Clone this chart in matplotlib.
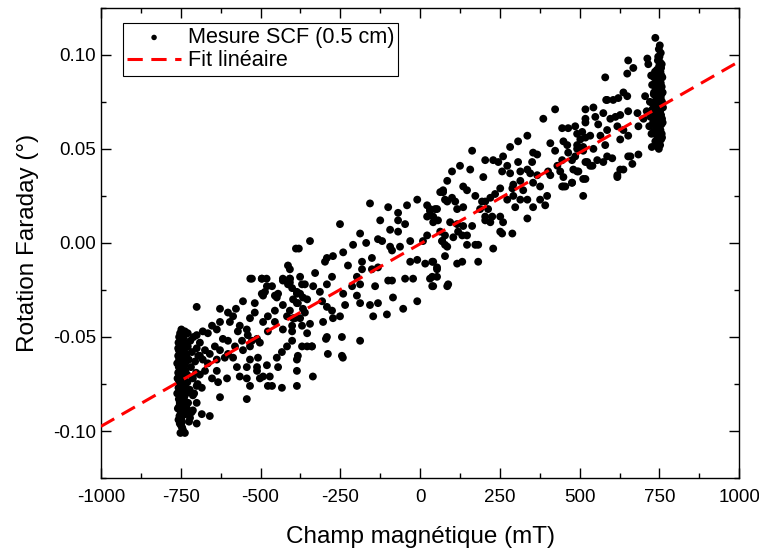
import numpy as np
import matplotlib.pyplot as plt

# Données : (champ en mT, rotation en degrés)
colonne_gauche = [
    (-748, -0.046), (-752, -0.048), (-745, -0.049), (-755, -0.050), (-750, -0.051), (-742, -0.052), (-757, -0.053), (-747, -0.054), (-753, -0.055), (-744, -0.055),
    (-750, -0.056), (-756, -0.057), (-741, -0.057), (-748, -0.058), (-753, -0.059), (-745, -0.060), (-758, -0.060), (-750, -0.061), (-743, -0.062), (-755, -0.062),
    (-748, -0.063), (-752, -0.064), (-740, -0.064), (-746, -0.065), (-756, -0.066), (-750, -0.066), (-743, -0.067), (-753, -0.068), (-747, -0.068), (-758, -0.069),
    (-750, -0.070), (-744, -0.070), (-754, -0.071), (-748, -0.072), (-741, -0.072), (-756, -0.073), (-751, -0.074), (-745, -0.074), (-753, -0.075), (-748, -0.076),
    (-757, -0.077), (-743, -0.077), (-750, -0.078), (-754, -0.079), (-746, -0.080), (-752, -0.081), (-748, -0.082), (-756, -0.083), (-744, -0.083), (-750, -0.084),
    (-753, -0.085), (-747, -0.086), (-755, -0.087), (-749, -0.088), (-752, -0.089), (-745, -0.090), (-750, -0.091), (-754, -0.092), (-748, -0.093), (-751, -0.094),
    (-746, -0.095), (-753, -0.096), (-749, -0.097), (-744, -0.099), (-751, -0.101), (-738, -0.060), (-736, -0.068), (-735, -0.075), (-739, -0.082), (-737, -0.054),
    (-732, -0.048), (-728, -0.055), (-725, -0.062), (-730, -0.070), (-722, -0.078), (-727, -0.085), (-720, -0.052), (-715, -0.058), (-718, -0.066), (-712, -0.072),
    (-710, -0.050), (-705, -0.063), (-700, -0.056), (-708, -0.080), (-702, -0.069), (-695, -0.060), (-690, -0.053), (-697, -0.075), (-716, -0.090), (-724, -0.095),
    (-740, -0.058), (-738, -0.065), (-741, -0.071), (-739, -0.078), (-740, -0.086), (-736, -0.091), (-733, -0.063), (-731, -0.059), (-733, -0.080), (-729, -0.074),
    (-744, -0.047), (-741, -0.050), (-761, -0.064), (-760, -0.072), (-761, -0.080), (-759, -0.088), (-758, -0.056), (-757, -0.094), (-742, -0.088), (-746, -0.098),
]

zone_gauche = [
    (-700, -0.034), (-627, -0.035), (-577, -0.035), (-555, -0.031), (-518, -0.032), (-496, -0.027), (-480, -0.023), (-527, -0.019), (-496, -0.019), (-430, -0.019),
    (-408, -0.021), (-455, -0.028), (-445, -0.027), (-430, -0.033), (-455, -0.036), (-386, -0.026), (-370, -0.022), (-367, -0.029), (-383, -0.032), (-408, -0.036),
    (-602, -0.037), (-586, -0.039), (-627, -0.042), (-596, -0.042), (-652, -0.044), (-637, -0.046), (-681, -0.047), (-665, -0.048), (-737, -0.047), (-728, -0.048),
    (-700, -0.049), (-565, -0.044), (-543, -0.046), (-571, -0.047), (-540, -0.049), (-558, -0.052), (-527, -0.052), (-511, -0.051), (-477, -0.047), (-502, -0.053),
    (-533, -0.055), (-555, -0.057), (-580, -0.055), (-602, -0.052), (-618, -0.051), (-627, -0.057), (-643, -0.055), (-659, -0.059), (-674, -0.057), (-690, -0.060),
    (-681, -0.062), (-665, -0.064), (-637, -0.062), (-612, -0.061), (-602, -0.059), (-586, -0.061), (-574, -0.066), (-543, -0.066), (-533, -0.062), (-511, -0.066),
    (-508, -0.061), (-480, -0.065), (-511, -0.068), (-543, -0.072), (-533, -0.076), (-565, -0.071), (-471, -0.071), (-433, -0.077), (-464, -0.076), (-386, -0.076),
    (-386, -0.068), (-386, -0.062), (-543, -0.083), (-627, -0.082), (-605, -0.072), (-633, -0.074), (-652, -0.072), (-637, -0.068), (-690, -0.070), (-674, -0.068),
    (-700, -0.076), (-684, -0.077), (-712, -0.081), (-700, -0.085), (-684, -0.091), (-659, -0.092), (-712, -0.089), (-731, -0.088), (-721, -0.093), (-700, -0.096),
    (-743, -0.100), (-737, -0.101), (-477, -0.076), (-383, -0.060), (-370, -0.055), (-354, -0.055), (-354, -0.048), (-370, -0.044), (-376, -0.040), (-361, -0.037),
    (-386, -0.027), (-502, -0.072), (-492, -0.071), (-445, -0.066), (-449, -0.061), (-433, -0.058), (-417, -0.055), (-401, -0.052), (-430, -0.046), (-401, -0.044),
    (-398, -0.040), (-417, -0.039), (-477, -0.039), (-492, -0.042), (-455, -0.042), (-533, -0.040), (-518, -0.037), (-389, -0.003), (-414, -0.012), (-532, -0.019),
    (-496, -0.019), (-481, -0.019), (-430, -0.020), (-408, -0.019), (-414, -0.022), (-464, -0.023), (-486, -0.026), (-492, -0.028), (-449, -0.029),
]

zone_milieu = [
    (-157, 0.021), (-251, 0.010), (-345, 0.001), (-380, -0.003), (-100, 0.019), (-69, 0.016), (-41, 0.020), (-9, 0.023), (-125, 0.012), (-94, 0.007),
    (-69, 0.012), (-47, 0.010), (-69, 0.006), (-188, 0.005), (-210, -0.001), (-169, 0.000), (-132, 0.002), (-119, 0.001), (-94, -0.002), (-88, -0.004),
    (-241, -0.005), (-273, -0.007), (-298, -0.010), (-292, -0.008), (-182, -0.010), (-151, -0.008), (-226, -0.012), (-182, -0.014), (-151, -0.014), (-132, -0.013),
    (-63, -0.002), (-31, 0.001), (-31, -0.010), (-9, -0.009), (16, -0.011), (9, 0.001), (22, 0.004), (41, -0.010), (53, -0.014), (53, -0.018),
    (31, -0.019), (78, -0.007), (85, -0.002), (69, 0.001), (78, 0.004), (63, 0.006), (41, 0.011), (56, 0.012), (22, 0.014), (31, 0.017),
    (53, 0.018), (22, 0.020), (85, 0.022), (72, 0.027), (85, 0.033), (-376, -0.018), (-408, -0.014), (-361, -0.022), (-376, -0.027), (-335, -0.023),
    (-329, -0.016), (-292, -0.022), (-276, -0.018), (-314, -0.026), (-354, -0.030), (-386, -0.032), (-398, -0.030), (-307, -0.031), (-292, -0.034), (-276, -0.036),
    (-241, -0.027), (-235, -0.033), (-213, -0.023), (-198, -0.028), (-188, -0.032), (-251, -0.039), (-273, -0.040), (-345, -0.043), (-304, -0.042), (-392, -0.040),
    (-401, -0.047), (-408, -0.019), (-401, -0.024), (-292, -0.050), (-245, -0.050), (-188, -0.052), (-339, -0.055), (-289, -0.059), (-245, -0.060), (-157, -0.033),
    (-147, -0.039), (-132, -0.032), (-104, -0.038), (-85, -0.029), (-88, -0.020), (-100, -0.020), (-141, -0.023), (-53, -0.035), (-47, -0.019), (-22, -0.019),
    (-9, -0.031), (38, -0.023), (85, -0.023), (-198, -0.018), (-188, -0.022), (-367, -0.035), (-339, -0.055), (-295, -0.051), (-242, -0.061), (-336, -0.071),
]

zone_droite = [
    (423, 0.071), (386, 0.066), (336, 0.057), (307, 0.054), (282, 0.051), (163, 0.049), (204, 0.044), (229, 0.044), (245, 0.043), (260, 0.046),
    (273, 0.041), (125, 0.041), (100, 0.038), (157, 0.039), (198, 0.035), (257, 0.038), (282, 0.037), (307, 0.043), (314, 0.038), (336, 0.039),
    (354, 0.048), (367, 0.047), (351, 0.043), (345, 0.037), (367, 0.036), (354, 0.032), (376, 0.030), (314, 0.033), (292, 0.031), (323, 0.028),
    (314, 0.023), (336, 0.023), (376, 0.023), (398, 0.025), (392, 0.020), (354, 0.019), (336, 0.013), (292, 0.025), (289, 0.029), (273, 0.023),
    (298, 0.019), (251, 0.029), (235, 0.026), (220, 0.024), (204, 0.022), (213, 0.018), (194, 0.022), (188, 0.018), (135, 0.030), (147, 0.028),
    (173, 0.025), (135, 0.019), (110, 0.022), (116, 0.018), (100, 0.024), (78, 0.023), (72, 0.028), (63, 0.027), (47, 0.018), (41, 0.014),
    (31, 0.018), (204, 0.014), (226, 0.014), (251, 0.014), (260, 0.011), (220, 0.011), (204, 0.012), (251, 0.006), (257, 0.005), (289, 0.005),
    (163, 0.009), (135, 0.009), (119, 0.006), (132, 0.004), (116, 0.010), (94, 0.011), (104, 0.003), (69, 0.001), (78, -0.001), (147, 0.004),
    (147, -0.001), (173, -0.001), (182, -0.001), (229, -0.003), (182, -0.010), (132, -0.010), (116, -0.011), (53, -0.013), (38, -0.010), (38, -0.018),
    (41, -0.023), (88, -0.022), (518, 0.056), (492, 0.058), (508, 0.059), (518, 0.064), (464, 0.061), (445, 0.061), (449, 0.054), (461, 0.052),
    (408, 0.053), (423, 0.049), (464, 0.048), (476, 0.044), (445, 0.044), (430, 0.041), (480, 0.039), (496, 0.038), (449, 0.035), (439, 0.038),
    (445, 0.030), (455, 0.030), (476, 0.032), (518, 0.034), (511, 0.025), (524, 0.043), (492, 0.050), (511, 0.051), (401, 0.038), (408, 0.036),
    (580, 0.088), (583, 0.076), (543, 0.072), (518, 0.071), (652, 0.097), (668, 0.093), (649, 0.090), (637, 0.080), (586, 0.076), (605, 0.076),
    (621, 0.077), (649, 0.078), (549, 0.067), (574, 0.069), (518, 0.066), (486, 0.062), (558, 0.063), (596, 0.066), (612, 0.067), (627, 0.068),
    (652, 0.070), (681, 0.069), (586, 0.060), (618, 0.062), (637, 0.060), (627, 0.055), (652, 0.057), (684, 0.062), (502, 0.055), (533, 0.057),
    (565, 0.057), (580, 0.052), (492, 0.052), (511, 0.049), (543, 0.050), (486, 0.046), (555, 0.044), (586, 0.046), (652, 0.046), (684, 0.047),
    (665, 0.042), (518, 0.043), (533, 0.041), (627, 0.039), (492, 0.038), (618, 0.036), (618, 0.035), (637, 0.039), (511, 0.034), (476, 0.032),
    (449, 0.030), (540, 0.041), (574, 0.043), (602, 0.045), (659, 0.046), (746, 0.051),
]

colonne_droite = [
    (748, 0.050), (752, 0.052), (745, 0.053), (755, 0.055), (750, 0.056), (742, 0.057), (757, 0.058), (747, 0.059), (753, 0.060), (744, 0.061),
    (750, 0.062), (756, 0.063), (741, 0.063), (748, 0.064), (753, 0.065), (745, 0.066), (758, 0.066), (750, 0.067), (743, 0.068), (755, 0.068),
    (748, 0.069), (752, 0.070), (740, 0.070), (746, 0.071), (756, 0.072), (750, 0.072), (743, 0.073), (753, 0.074), (747, 0.074), (758, 0.075),
    (750, 0.076), (744, 0.076), (754, 0.077), (748, 0.078), (741, 0.078), (756, 0.079), (751, 0.080), (745, 0.080), (753, 0.081), (748, 0.082),
    (757, 0.083), (743, 0.083), (750, 0.084), (754, 0.085), (746, 0.086), (752, 0.087), (748, 0.088), (756, 0.089), (744, 0.089), (750, 0.090),
    (753, 0.091), (747, 0.092), (755, 0.093), (749, 0.094), (752, 0.096), (745, 0.097), (750, 0.099), (754, 0.101), (748, 0.103), (751, 0.105),
    (737, 0.109), (738, 0.060), (736, 0.068), (735, 0.075), (739, 0.082), (737, 0.054), (733, 0.088), (730, 0.064), (728, 0.071), (732, 0.079),
    (725, 0.058), (722, 0.067), (727, 0.084), (720, 0.075), (715, 0.095), (712, 0.098), (718, 0.062), (710, 0.070), (705, 0.078), (700, 0.066),
    (740, 0.059), (738, 0.065), (741, 0.071), (739, 0.078), (740, 0.086), (736, 0.091), (733, 0.063), (731, 0.059), (733, 0.080), (729, 0.074),
    (760, 0.064), (761, 0.072), (760, 0.080), (759, 0.088), (758, 0.056), (757, 0.095), (742, 0.092), (746, 0.099), (724, 0.089), (726, 0.051),
]

# Droite d'ajustement (extrémités)
fit_x = [-1000, 1000]
fit_y = [-0.0975, 0.0965]

points = np.array(colonne_gauche + zone_gauche + zone_milieu + zone_droite + colonne_droite)
champ = points[:, 0]
rotation = points[:, 1]

plt.rcParams['font.family'] = ['Liberation Sans', 'DejaVu Sans']
plt.rcParams['axes.unicode_minus'] = False

fig = plt.figure(figsize=(7.59, 5.54), dpi=100)
ax = fig.add_axes([0.133, 0.137, 0.841, 0.849])

ax.scatter(champ, rotation, s=32, color='black', edgecolors='none', label='Mesure SCF (0.5 cm)', zorder=2)
ax.plot(fit_x, fit_y, color='red', lw=2.2, dashes=(5, 2.8), label='Fit linéaire', zorder=3)

ax.set_xlim(-1000, 1000)
ax.set_ylim(-0.125, 0.125)
ax.set_xticks(np.arange(-1000, 1001, 250))
ax.set_xticks(np.arange(-875, 1000, 250), minor=True)
ax.set_yticks([-0.10, -0.05, 0.00, 0.05, 0.10])
ax.set_yticks([-0.125, -0.075, -0.025, 0.025, 0.075, 0.125], minor=True)
ax.yaxis.set_major_formatter(plt.FormatStrFormatter('%.2f'))

ax.tick_params(which='both', direction='in', top=True, right=True, labelsize=13.5, width=1)
ax.tick_params(which='major', length=7)
ax.tick_params(which='minor', length=3.5)
ax.tick_params(axis='x', pad=8)
for s in ax.spines.values():
    s.set_linewidth(1)

ax.set_xlabel('Champ magnétique (mT)', fontsize=17.5, labelpad=14)
ax.set_ylabel('Rotation Faraday (°)', fontsize=17.5, labelpad=10)

leg = ax.legend(loc='upper left', bbox_to_anchor=(0.034, 0.968), borderaxespad=0, fontsize=15.6,
                frameon=True, fancybox=False, edgecolor='black', framealpha=1,
                handlelength=2.5, handletextpad=0.3, borderpad=0.2, labelspacing=0.1, markerscale=0.7)
leg.get_frame().set_linewidth(0.8)

fig.savefig('out.png', dpi=100)
